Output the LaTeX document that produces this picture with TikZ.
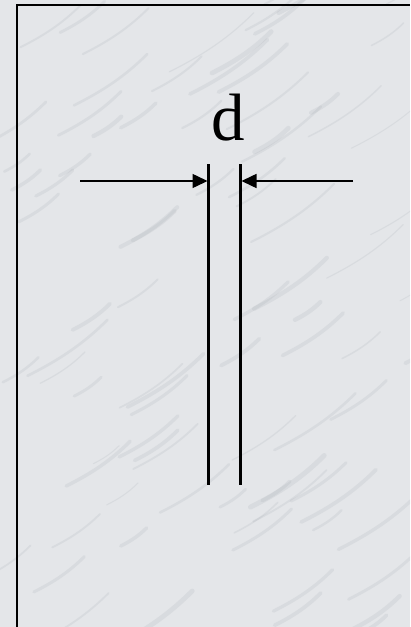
\documentclass[tikz,border=0pt]{standalone}
\usepackage{fontspec}
\setmainfont{Liberation Serif}
\usepackage{tikz}
\usetikzlibrary{arrows.meta,positioning,calc}

\definecolor{marble}{RGB}{228,230,233}
\definecolor{vein}{RGB}{150,156,164}
\tikzset{
  wall/.style={line width=2pt},
  plate/.style={line width=2.1pt},
  dimarrow/.style={-{Triangle[length=15pt,width=14pt]},line width=1.5pt},
  gaplabel/.style={font=\fontsize{67}{67}\selectfont,inner sep=0pt,anchor=base},
}

\begin{document}
\begin{tikzpicture}[x=1pt,y=-1pt]
\useasboundingbox (0,0) rectangle (410,627);
% marble ground
\begin{scope}
\clip (0,0) rectangle (410,627);
\fill[marble] (0,0) rectangle (410,627);
\pgfmathsetseed{11}
\foreach \i in {1,...,90}{
  \pgfmathsetmacro{\xa}{rnd*440-15}
  \pgfmathsetmacro{\ya}{rnd*660}
  \pgfmathsetmacro{\ln}{25+rnd*60}
  \pgfmathsetmacro{\lw}{1+rnd*4}
  \draw[vein,opacity=0.14,line width=\lw pt,line cap=round]
    (\xa,\ya) .. controls ++(\ln*0.4,-\ln*0.2) and ++(-\ln*0.3,\ln*0.3) .. ++(\ln,-\ln*0.7);
}
\end{scope}

% frame
\draw[wall] (16.5,627) -- (16.5,4.5) -- (410,4.5);

% the two plates
\coordinate (lt) at (208.5,164);
\coordinate (lb) at (208.5,485);
\coordinate (rt) at (240.5,164);
\coordinate (rb) at (240.5,485);
\draw[plate] (lt) -- (lb);
\draw[plate] (rt) -- (rb);

% gap size
\coordinate (la) at (80,181);
\coordinate (ra) at (353,181);
\draw[dimarrow] (la) -- ($(lt |- la)+(-1,0)$);
\draw[dimarrow] (ra) -- ($(rt |- ra)+(1,0)$);
\node[gaplabel] (d) at (228.5,140) {d};
\end{tikzpicture}
\end{document}
